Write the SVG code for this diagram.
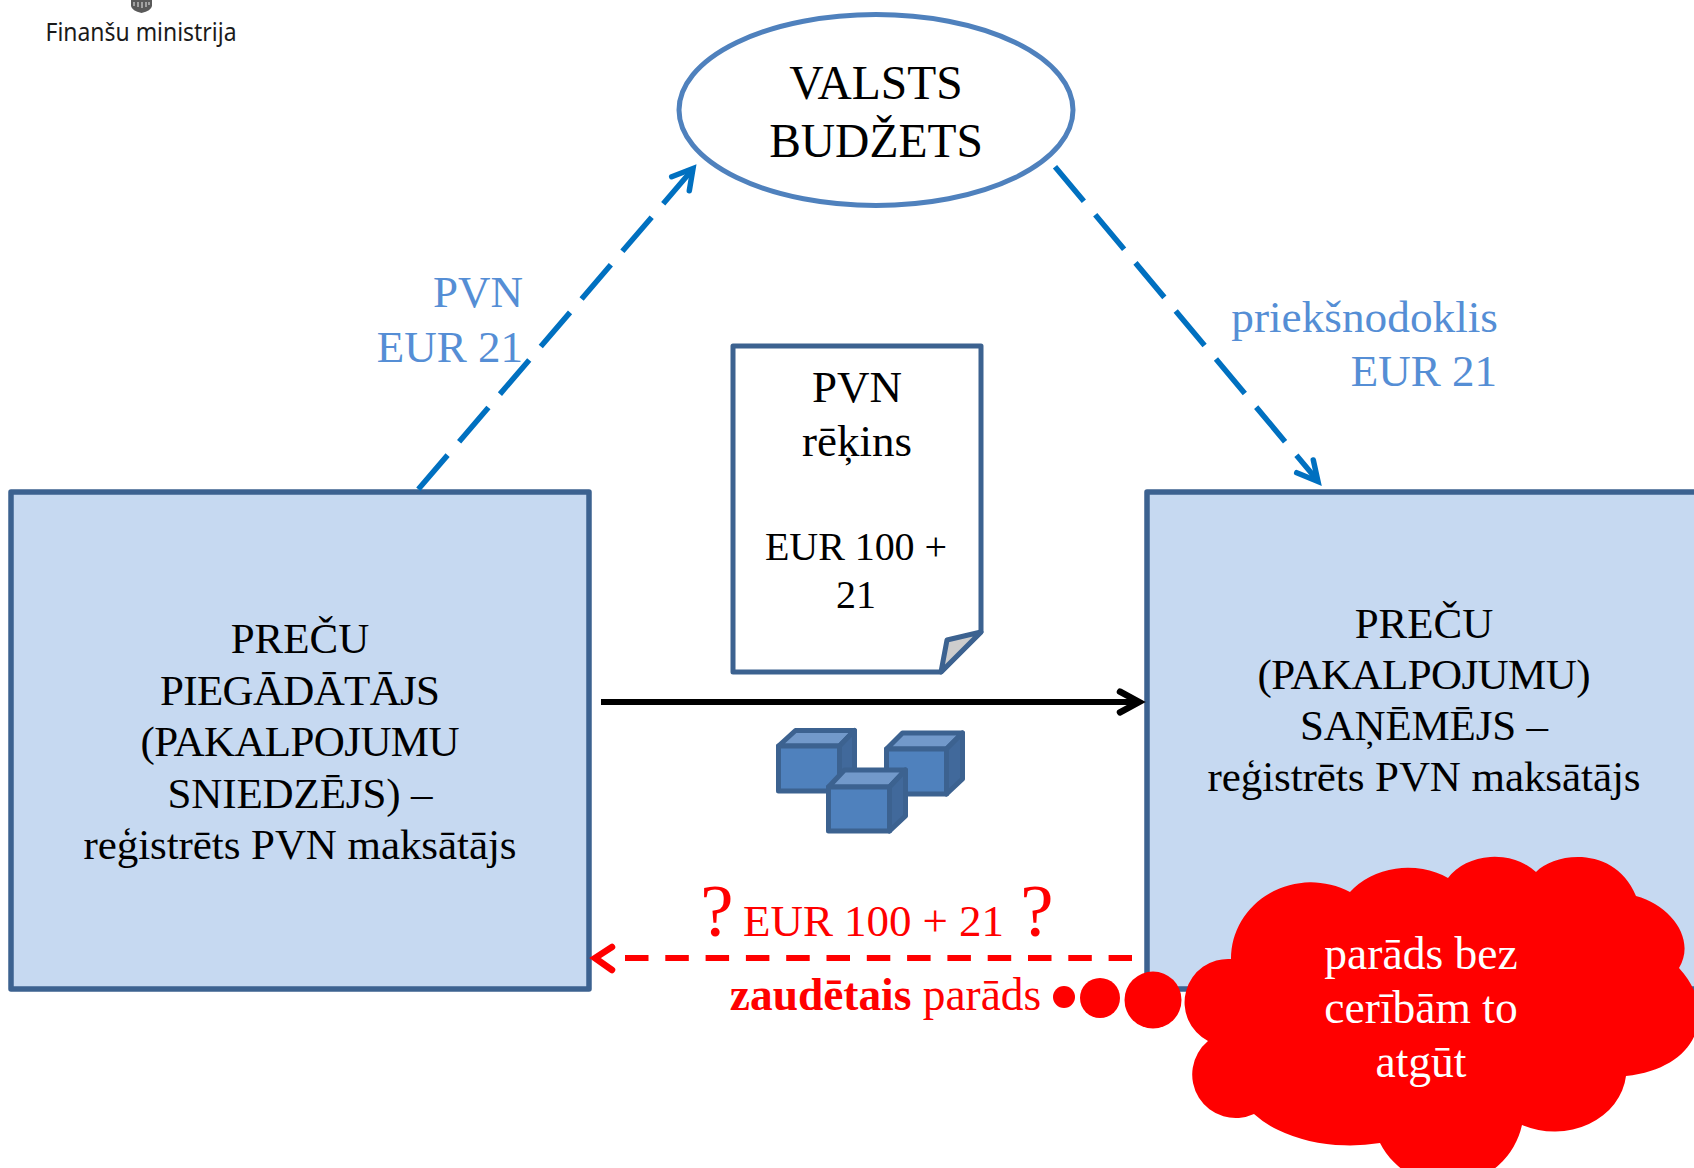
<svg xmlns="http://www.w3.org/2000/svg" width="1694" height="1168" viewBox="0 0 1694 1168">
<style>
text{font-family:"Liberation Serif","Times New Roman",serif;text-anchor:middle}
.k{fill:#000}.b{fill:#558ed5}.r{fill:#f00}.w{fill:#fff}
.box{fill:#c6d9f1;stroke:#3c6290;stroke-width:5.5;stroke-linejoin:round}
.front{fill:#4f81bd}.top{fill:#7299ca}.side{fill:#41699b}
.cube *{stroke:#3c6290;stroke-width:5;stroke-linejoin:round}
.blue{fill:none;stroke:#0070c0;stroke-width:5.5;stroke-dasharray:45 17.700}
.blueh{fill:none;stroke:#0070c0;stroke-width:5.5;stroke-linecap:round;stroke-linejoin:miter;stroke-miterlimit:10}
</style>
<rect width="1694" height="1168" fill="#fff"/>
<g id="logo">
<path d="M131,0H152V6Q151,11 141.500,13Q132,11 131,6Z" fill="#5a5a5a"/>
<path d="M134,2V6M138,2V7M142,2V8M146,2V7M149,2V5" stroke="#bbb" stroke-width="1.500" fill="none"/>
<text x="141" y="41" style="font-family:'Noto Sans',sans-serif" font-size="24.500" textLength="191" lengthAdjust="spacingAndGlyphs" fill="#1a1a1a">Finanšu ministrija</text>
</g>
<g id="budget">
<ellipse cx="876" cy="110" rx="197" ry="95.500" fill="#fff" stroke="#4f81bd" stroke-width="5"/>
<text x="876" y="99" font-size="47.500" class="k">VALSTS</text>
<text x="876" y="157" font-size="47.500" class="k">BUDŽETS</text>
</g>
<g id="supplier">
<rect class="box" x="11" y="492" width="578" height="497"/>
<g font-size="43" class="k">
<text x="300" y="653">PREČU</text>
<text x="300" y="705" textLength="280">PIEGĀDĀTĀJS</text>
<text x="300" y="756" textLength="319">(PAKALPOJUMU</text>
<text x="300" y="808" textLength="265">SNIEDZĒJS) –</text>
<text x="300" y="859" textLength="433">reģistrēts PVN maksātājs</text>
</g>
</g>
<g id="receiver">
<rect class="box" x="1147" y="492" width="580" height="497"/>
<g font-size="43" class="k">
<text x="1424" y="638">PREČU</text>
<text x="1424" y="689" textLength="333">(PAKALPOJUMU)</text>
<text x="1424" y="740" textLength="248">SAŅĒMĒJS –</text>
<text x="1424" y="791" textLength="433">reģistrēts PVN maksātājs</text>
</g>
</g>
<g id="invoice">
<path d="M733,346H981V632L941,672H733Z" fill="#fff" stroke="#3c6290" stroke-width="5" stroke-linejoin="round"/>
<path d="M981,632L947,640L941,672Z" fill="#cdcdcd" stroke="#3c6290" stroke-width="5" stroke-linejoin="round"/>
<text x="857" y="402" font-size="45" class="k">PVN</text>
<text x="857" y="456" font-size="45" class="k">rēķins</text>
<text x="856" y="560" font-size="40" class="k" textLength="182">EUR 100 +</text>
<text x="856" y="608" font-size="40" class="k">21</text>
</g>
<g id="goods" transform="translate(-0.500,-2)">
<g class="cube">
<path class="top" d="M779,748L796,732.500H855L840,748Z"/><path class="side" d="M840,748L855,732.500V778L840,793Z"/><rect class="front" x="779" y="748" width="61" height="45"/>
</g>
<g class="cube">
<path class="top" d="M887,751L903,735H963L947,751Z"/><path class="side" d="M947,751L963,735V781L947,796Z"/><rect class="front" x="887" y="751" width="60" height="45"/>
</g>
<g class="cube">
<path class="top" d="M829,789L845,772H906L890,789Z"/><path class="side" d="M890,789L906,772V818L890,833Z"/><rect class="front" x="829" y="789" width="61" height="44"/>
</g>
</g>
<g id="connectors">
<path class="blue" d="M418.300,489.300L693,169"/>
<path class="blueh" d="M671.700,176.700L693,168.500L689.300,190.700"/>
<path class="blue" d="M1055,166.700L1318,481"/>
<path class="blueh" d="M1313.300,460L1318,481.500L1296.700,472.700"/>
<path d="M601,702H1138" fill="none" stroke="#000" stroke-width="6"/>
<path d="M1120,691.700L1139,702L1120,712.300" fill="none" stroke="#000" stroke-width="6.500" stroke-linecap="round" stroke-linejoin="miter"/>
<path d="M625,958H1132" fill="none" stroke="#f00" stroke-width="6" stroke-dasharray="23.500 16.800"/>
<path d="M612,947L595,958L612,970" fill="none" stroke="#f00" stroke-width="6.500" stroke-linecap="round" stroke-linejoin="miter"/>
</g>
<g id="eur-label">
<text x="717" y="936" font-size="75" class="r">?</text>
<text x="873.500" y="936" font-size="45" class="r" textLength="261">EUR 100 + 21</text>
<text x="1037" y="936" font-size="75" class="r">?</text>
</g>
<g id="vat-label">
<text x="523" y="306.500" font-size="45" class="b" style="text-anchor:end">PVN</text>
<text x="523" y="361.500" font-size="45" class="b" style="text-anchor:end">EUR 21</text>
</g>
<g id="input-vat-label">
<text x="1498" y="332" font-size="45.300" class="b" style="text-anchor:end">priekšnodoklis</text>
<text x="1497" y="386" font-size="45" class="b" style="text-anchor:end">EUR 21</text>
</g>
<g id="lost-debt">
<text x="885.500" y="1009.500" font-size="45.400" class="r"><tspan font-weight="bold">zaudētais</tspan> parāds</text>
<ellipse class="r" cx="1064" cy="997" rx="11" ry="11"/>
<ellipse class="r" cx="1100" cy="998" rx="20" ry="20"/>
<ellipse class="r" cx="1153" cy="1000" rx="28.500" ry="28.500"/>
</g>
<g id="cloud">
<path class="r" d="M1231,959A80,76 0 0 1 1350,892A72,60 0 0 1 1448,878A55,45 0 0 1 1536,872C1555,852 1615,845 1636,896C1672,906 1696,940 1679,968C1718,1010 1700,1068 1626,1076A72,62 0 0 1 1522,1125A76,76 0 0 1 1380,1143A115,70 0 0 1 1254,1114A43.500,43.500 0 0 1 1208,1041A43.500,43.500 0 0 1 1231,959Z"/>
<text x="1421" y="968.500" font-size="45.500" class="w">parāds bez</text>
<text x="1421" y="1022.500" font-size="45.500" class="w">cerībām to</text>
<text x="1421" y="1076.500" font-size="45.500" class="w">atgūt</text>
</g>
</svg>
